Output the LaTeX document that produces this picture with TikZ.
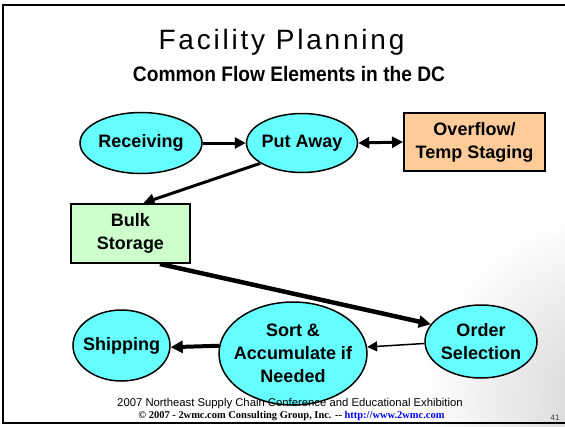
\documentclass[tikz,border=0pt]{standalone}
\usepackage{fontspec}
\setmainfont{Liberation Sans}
\newfontfamily\serifb{Liberation Serif}
\newfontfamily\titlefont[LetterSpace=10]{Liberation Sans}
\usetikzlibrary{shapes.geometric,arrows.meta}
\definecolor{cy}{HTML}{66FFFF}
\definecolor{orng}{HTML}{FFCC99}
\definecolor{grn}{HTML}{CCFFCC}
\definecolor{urlblue}{HTML}{0000FF}
\begin{document}
\begin{tikzpicture}[x=1pt,y=-1pt,
  ell/.style={ellipse, draw=black, line width=1.5pt, fill=cy, inner sep=0pt},
  box/.style={rectangle, draw=black, line width=2pt, inner sep=0pt},
  lbl/.style={font=\fontsize{18}{23}\selectfont\bfseries, align=center},
  arr/.style={line width=3pt, -{Triangle[length=11pt,width=11pt]}},
]
\useasboundingbox (0,0) rectangle (565,426);
\begin{scope}
\clip (0,0) rectangle (565,426);
\shade[inner color=gray!35, outer color=white] (610,400) circle (190);
\end{scope}
\draw[line width=2pt] (565,5) -- (3,5) -- (3,423) -- (565,423);

\node[font=\titlefont\fontsize{28}{32}\selectfont, anchor=base, inner sep=0pt] (title) at (281.5,49.3) {Facility Planning};
\node[font=\fontsize{21}{24}\selectfont\bfseries, anchor=base, inner sep=0pt] (sub) at (289,81.7) {\scalebox{0.913}[1]{Common Flow Elements in the DC}};

\node[ell, minimum width=122, minimum height=61, label={[lbl]center:Receiving}] (rec) at (141,143) {};
\node[ell, minimum width=111, minimum height=59, label={[lbl]center:Put Away}] (pa) at (302,143) {};
\node[box, fill=orng, minimum width=141, minimum height=58, lbl] (ov) at (474.5,142) {Overflow/\\Temp Staging};
\node[box, fill=grn, minimum width=119, minimum height=59, lbl] (bulk) at (130.5,233.5) {Bulk\\Storage};
\node[ell, minimum width=112, minimum height=73, label={[lbl]center:Order\\Selection}] (os) at (481,341.5) {};
\node[ell, minimum width=148, minimum height=103, label={[lbl]center:Sort \&\\Accumulate if\\Needed}] (sort) at (293,353.5) {};
\node[ell, minimum width=97, minimum height=71, label={[lbl]center:Shipping}] (ship) at (121.5,345.5) {};

\draw[arr] (rec.east) -- (pa.west);
\draw[line width=3pt, {Triangle[length=11pt,width=11pt]}-{Triangle[length=11pt,width=11pt]}] (pa.east) -- (ov.west);
\draw[arr] (pa.206) -- (bulk.67);
\draw[line width=4.5pt, -{Triangle[length=12pt,width=12pt]}] (bulk.-46) -- (os.161);
\draw[line width=1.5pt, -{Triangle[length=10pt,width=10pt]}] (os.182) -- (sort.5);
\draw[line width=4pt, -{Triangle[length=12pt,width=12pt]}] (sort.174) -- (ship.-2);

\node[font=\fontsize{11.3}{13}\selectfont] (f1) at (290,404) {2007 Northeast Supply Chain Conference and Educational Exhibition};
\node[font=\serifb\fontsize{10.45}{12}\selectfont\bfseries] (f2) at (291.5,416) {\textcopyright{} 2007 - 2wmc.com Consulting Group, Inc. -- \textcolor{urlblue}{http://www.2wmc.com}};
\node[font=\fontsize{8}{10}\selectfont, text=black!75] (pg) at (555,418) {41};
\end{tikzpicture}
\end{document}
